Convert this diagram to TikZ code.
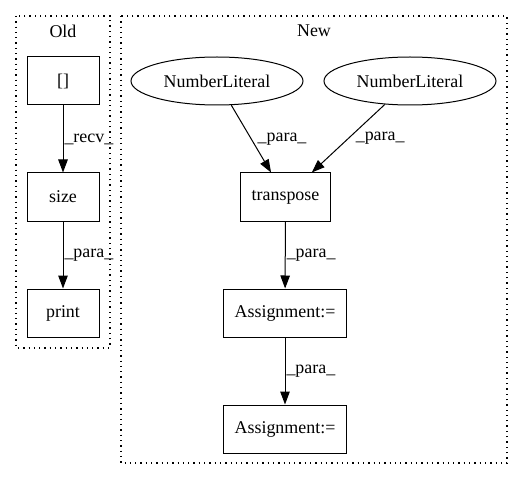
\documentclass[tikz,border=0pt]{standalone}
\usepackage{fontspec}
\setmainfont{Liberation Serif}
\usetikzlibrary{shapes.geometric,arrows.meta}
\begin{document}
\begin{tikzpicture}[x=1bp,y=-1bp,
  every node/.style={font=\fontsize{18}{20}\selectfont},
  cluster/.style={draw=black, line width=1.3bp, dash pattern=on 1.3bp off 4bp},
  box/.style={rectangle, draw=black, line width=1bp, minimum width=72bp, minimum height=48bp, inner xsep=11bp},
  lit/.style={ellipse, draw=black, line width=1bp, minimum width=172bp, minimum height=48bp, inner sep=0pt},
  flow/.style={draw=black, line width=1bp, -{Triangle[length=13bp,width=9.5bp]}},
  elabel/.style={anchor=west, inner sep=1bp}]
\useasboundingbox (0,0) rectangle (523,480);
\draw [cluster] (16,16) rectangle (110,348);
\draw [cluster] (121,16) rectangle (507,463);
\node (oldlbl) at (63,31) {Old};
\node (newlbl) at (314,31) {New};
\node [box] (idx) at (63,81) {[]};
\node [box] (size) at (63,197) {size};
\node [box] (print) at (63,313) {print};
\node [lit] (numa) at (217,81) {NumberLiteral};
\node [lit] (numb) at (410,81) {NumberLiteral};
\node [box] (transp) at (285.5,197) {transpose};
\node [box] (assigna) at (285,313) {Assignment:=};
\node [box] (assignb) at (285,429) {Assignment:=};
\draw [flow] (idx) -- node [elabel] (recv) {\_recv\_} (size);
\draw [flow] (size) -- node [elabel] (paraold) {\_para\_} (print);
\draw [flow] (numa) -- node [elabel, xshift=5bp] (paraa) {\_para\_} (transp);
\draw [flow] (numb) -- node [elabel, xshift=6bp] (parab) {\_para\_} (transp);
\draw [flow] (transp) -- node [elabel] (parac) {\_para\_} (assigna);
\draw [flow] (assigna) -- node [elabel] (parad) {\_para\_} (assignb);
\end{tikzpicture}
\end{document}
